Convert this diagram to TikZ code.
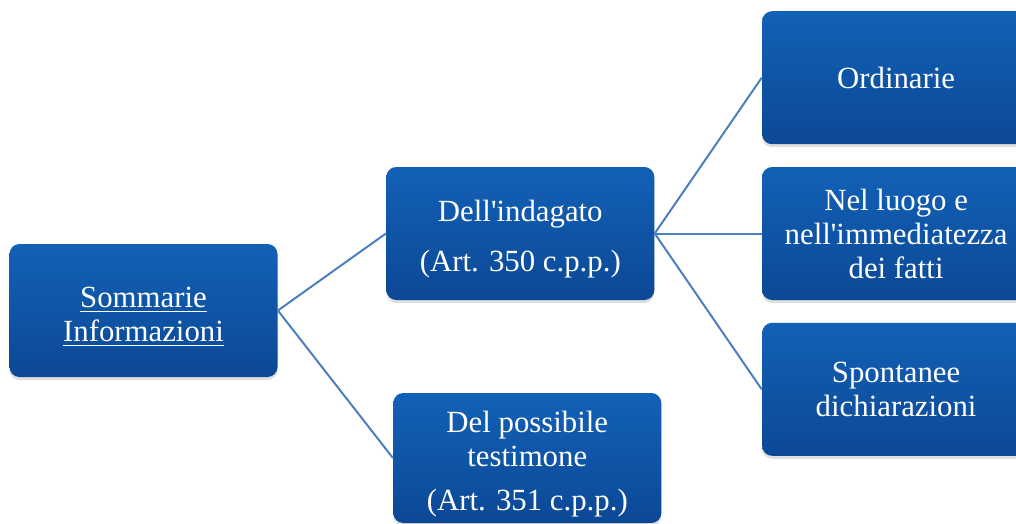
\documentclass[tikz,border=0pt]{standalone}
\usepackage{fontspec}
\setmainfont{Liberation Serif}
\usepackage{xcolor}
\usepackage{tikz}
\usetikzlibrary{positioning,shadows}

\definecolor{boxtop}{HTML}{1261B6}
\definecolor{boxbottom}{HTML}{0C4896}
\definecolor{linkblue}{HTML}{4C7FC0}
% extra room above the first line, pushes the text a bit lower
\newcommand{\topgap}{\rule{0pt}{16.6pt}}

\begin{document}
\begin{tikzpicture}
      [ x=0.5pt, y=-0.5pt,
        infobox/.style={rectangle, rounded corners=5pt, minimum width=134pt,
          minimum height=66.5pt, inner sep=0pt, align=center, text=white,
          top color=boxtop, bottom color=boxbottom,
          drop shadow={opacity=0.25, shadow xshift=0pt, shadow yshift=-1.5pt},
          font=\fontsize{15.4}{17}\selectfont},
        link/.style={draw=linkblue, line width=1pt}
      ]
      \useasboundingbox (0,0) rectangle (1016,524);
      \node[infobox]  (sommarie)  at (143.5,310.5)                         {\topgap\underline{Sommarie}\\\underline{Informazioni}};
      \node[infobox]  (indagato)  [right=54pt of sommarie, yshift=38.5pt]   {\topgap Dell\textquotesingle indagato\\[8pt](Art. 350 c.p.p.)};
      \node[infobox, minimum height=65pt]
                      (testimone) [right=57.5pt of sommarie, yshift=-73.75pt] {\topgap Del possibile\\testimone\\[5pt](Art. 351 c.p.p.)};
      \node[infobox]  (luogo)     [right=53.5pt of indagato]                {Nel luogo e\\nell\textquotesingle immediatezza\\dei fatti};
      \node[infobox]  (ordinarie) [above=11pt of luogo]                     {Ordinarie};
      \node[infobox]  (spontanee) [below=11pt of luogo]                     {Spontanee\\dichiarazioni};

      \path[link] (sommarie.east) edge (indagato.west)
                                  edge (testimone.west)
                  (indagato.east) edge (ordinarie.west)
                                  edge (luogo.west)
                                  edge (spontanee.west);
\end{tikzpicture}
\end{document}
